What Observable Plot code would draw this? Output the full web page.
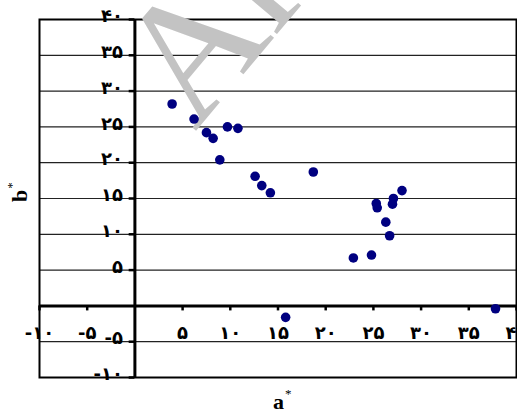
<!DOCTYPE html>
<html><head><meta charset="utf-8">
<script src="https://cdn.jsdelivr.net/npm/d3@7"></script>
<script src="https://cdn.jsdelivr.net/npm/@observablehq/plot@0.6"></script>
<style>
html,body{margin:0;padding:0;background:#fff;overflow:hidden;width:517px;height:413px;}
#wrap{position:relative;width:517px;height:413px;overflow:hidden;}
#wrap svg{display:block;}
.title{position:absolute;font-family:"Liberation Serif",serif;font-weight:bold;font-size:22px;color:#000;line-height:1;white-space:nowrap;}
.title sup{font-size:13px;font-weight:normal;vertical-align:baseline;position:relative;top:-11px;margin-left:1px;}
</style>
</head><body>
<div id="wrap"></div>
<script>
// a* values (x) and b* values (y)
const aValues = [3.9, 6.2, 7.5, 8.2, 9.7, 10.8, 8.9, 12.6, 13.3, 14.2, 18.7, 28.0, 25.3, 25.4, 27.1, 27.0, 26.3, 26.7, 22.9, 24.8, 15.8, 37.8];
const bValues = [28.2, 26.1, 24.2, 23.4, 25.0, 24.8, 20.4, 18.1, 16.8, 15.8, 18.7, 16.1, 14.3, 13.7, 15.0, 14.2, 11.7, 9.8, 6.7, 7.1, -1.6, -0.4];
const xTicks = [-10, -5, 5, 10, 15, 20, 25, 30, 35, 40];
const yTicks = [-10, -5, 5, 10, 15, 20, 25, 30, 35, 40];
const gridLines = [-10, -5, 0, 5, 10, 15, 20, 25, 30, 35, 40];
const xTitle = "a";
const yTitle = "b";
const watermark = "Archive of SID";

const fa = "۰۱۲۳۴۵۶۷۸۹";
const toFa = v => (v < 0 ? "-" : "") + String(Math.abs(v)).replace(/\d/g, d => fa[+d]);

const points = aValues.map((a, i) => ({a, b: bValues[i]}));

const chart = Plot.plot({
  width: 517,
  height: 413,
  marginLeft: 39,
  marginRight: 1,
  marginTop: 19,
  marginBottom: 36,
  x: {domain: [-10, 40], axis: null},
  y: {domain: [-10, 40], axis: null},
  style: {fontFamily: "DejaVu Sans", fontSize: "18px", fontWeight: "bold", background: "white", overflow: "hidden"},
  marks: [
    Plot.ruleY(gridLines, {y: d => d, stroke: "#222", strokeWidth: 1.2}),
    Plot.ruleX([0], {stroke: "#000", strokeWidth: 3}),
    Plot.ruleY([0], {stroke: "#000", strokeWidth: 3}),
    Plot.ruleX(xTicks, {x: d => d, y1: 0, y2: -0.7, stroke: "#000", strokeWidth: 2.5}),
    Plot.ruleY(yTicks, {y: d => d, x1: -0.6, x2: 0, stroke: "#000", strokeWidth: 2.5}),
    Plot.text(xTicks, {x: d => d, y: 0, text: d => toFa(d), dy: 27, fill: "#000"}),
    Plot.text(yTicks, {x: 0, y: d => d, text: d => toFa(d), dx: -12, dy: -3, textAnchor: "end", fill: "#000"}),
    Plot.frame({stroke: "#000", strokeWidth: 2}),
    Plot.dot(points, {x: "a", y: "b", r: 4.8, fill: "#000080", stroke: "none"})
  ]
});
const wrap = document.getElementById("wrap");
wrap.appendChild(chart);

// watermark (decorative) placed under the dots
const ns = "http://www.w3.org/2000/svg";
const dotsG = chart.querySelector('g[aria-label="dot"]');
const wm = document.createElementNS(ns, "text");
wm.setAttribute("x", 0);
wm.setAttribute("y", 0);
wm.setAttribute("transform", "translate(195 132) rotate(-50)");
wm.setAttribute("font-family", "Liberation Serif");
wm.setAttribute("font-size", 172);
wm.setAttribute("font-weight", "normal");
wm.setAttribute("text-anchor", "start");
wm.setAttribute("fill", "#c3c3c3");
wm.textContent = watermark;
dotsG.parentNode.insertBefore(wm, dotsG);

// axis titles
const tx = document.createElement("div");
tx.className = "title";
tx.innerHTML = xTitle + "<sup>*</sup>";
tx.style.left = "273px";
tx.style.top = "391px";
wrap.appendChild(tx);

const ty = document.createElement("div");
ty.className = "title";
ty.innerHTML = yTitle + "<sup>*</sup>";
ty.style.left = "20px";
ty.style.top = "192px";
ty.style.transform = "translate(-50%,-50%) rotate(-90deg)";
wrap.appendChild(ty);
</script>
</body></html>
